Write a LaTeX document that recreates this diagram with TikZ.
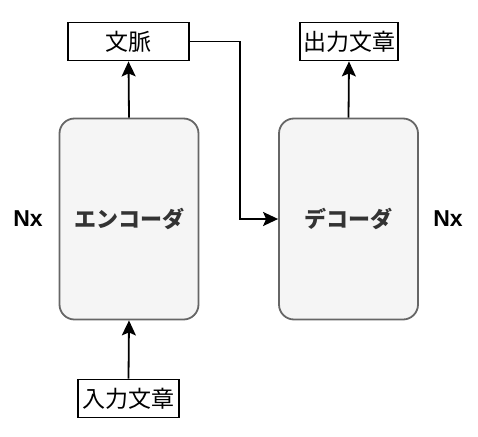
\documentclass[tikz,border=0pt]{standalone}
\usepackage{fontspec}
\setmainfont{Liberation Sans}
\newfontfamily\cjk{Noto Sans CJK JP}
\usetikzlibrary{arrows.meta}
\definecolor{boxfill}{HTML}{F5F5F5}
\definecolor{boxline}{HTML}{666666}
\definecolor{boxtext}{HTML}{333333}
\begin{document}
\begin{tikzpicture}[x=1pt,y=-1pt,
  block/.style={draw=boxline,fill=boxfill,line width=1.8pt,rounded corners=15pt,
    minimum width=139pt,minimum height=201pt,inner sep=0pt,
    font=\cjk\bfseries\fontsize{22}{26}\selectfont,text=boxtext},
  label/.style={draw=black,line width=1.8pt,fill=white,inner sep=0pt,
    minimum height=38pt,font=\cjk\fontsize{23}{26}\selectfont},
  conn/.style={line width=1.8pt,-{Stealth[length=15pt,width=14pt,inset=3pt]}},
  nx/.style={font=\bfseries\fontsize{23}{26}\selectfont}]
\useasboundingbox (0,0) rectangle (478,436);
\node[block] (enc) at (129,219) {エンコーダ};
\node[block] (dec) at (348.5,219) {デコーダ};
\node[label,minimum width=121pt] (ctx) at (128.5,41.5) {文脈};
\node[label,minimum width=98pt] (out) at (349,41.5) {出力文章};
\node[label,minimum width=101pt] (in) at (128.5,398.5) {入力文章};
\node[nx] (nxl) at (28,219) {Nx};
\node[nx] (nxr) at (448,219) {Nx};
\draw[conn] (enc.north) -- (ctx.south);
\draw[conn] (dec.north) -- (out.south);
\draw[conn] (in.north) -- (enc.south);
\draw[conn] (ctx.east) -| (240,219) -- (dec.west);
\end{tikzpicture}
\end{document}
